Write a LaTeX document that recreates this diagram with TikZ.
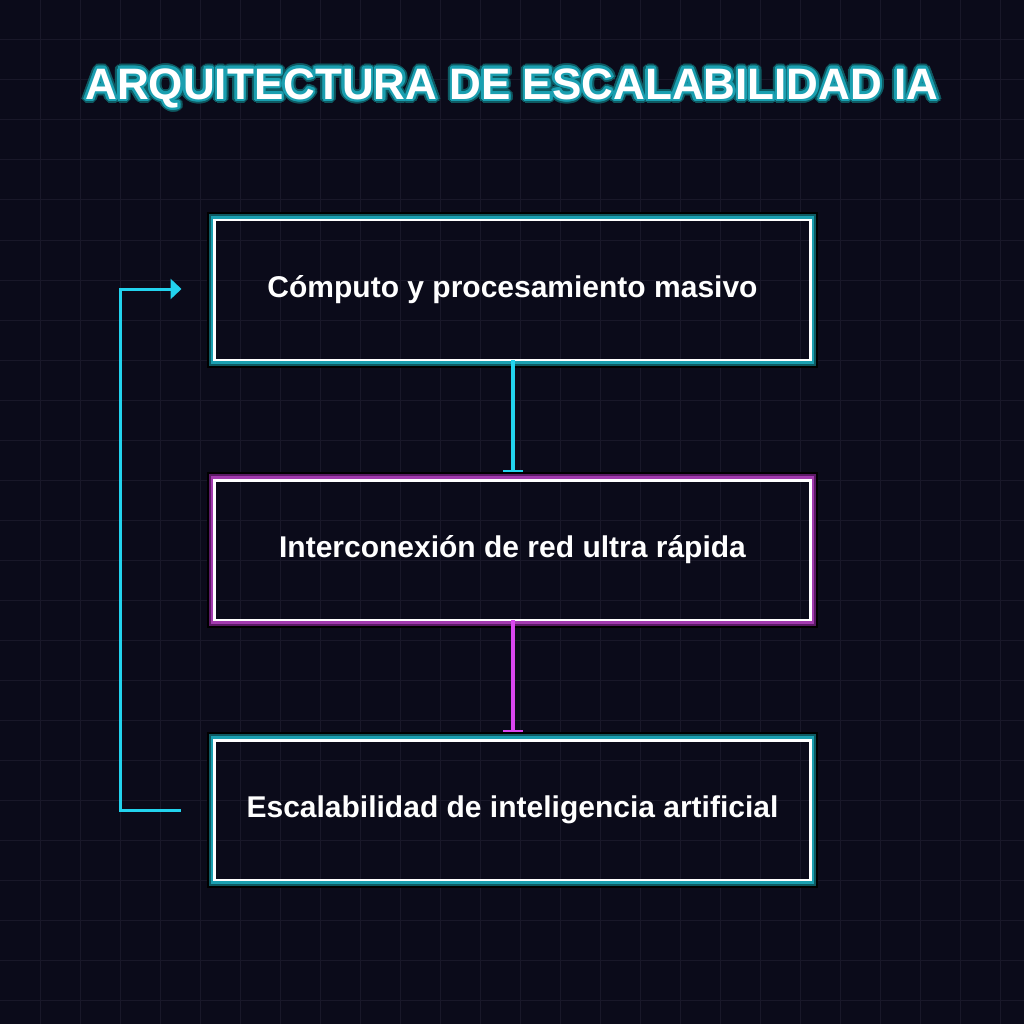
\documentclass[tikz,border=0pt]{standalone}
\usepackage{fontspec}
\setmainfont{Liberation Sans}
\usetikzlibrary{arrows.meta,calc}
\definecolor{bg}{HTML}{0B0B1A}
\definecolor{gridc}{HTML}{191829}
\definecolor{cyanl}{HTML}{22D3EE}
\definecolor{magl}{HTML}{D946EF}
\definecolor{teal1}{HTML}{1A9FB0}
\definecolor{teal2}{HTML}{0E5A62}
\definecolor{pur1}{HTML}{A23AAE}
\definecolor{pur2}{HTML}{5C1A66}
\tikzset{
  boxbase/.style={minimum width=596pt, minimum height=140pt, inner sep=0pt, outer sep=0pt,
    draw=white, line width=3pt, text=white, font=\fontsize{30}{34}\selectfont\bfseries},
  titlefont/.style={font=\fontsize{44}{50}\selectfont\bfseries},
  connector/.style={line width=4pt, shorten >=8pt, -{Bar[width=20pt,line width=2pt]}},
}
\newcommand\glowring[3]{%
  \draw[black, line width=2.2pt] ([shift={(-6.5,-6.5)}]#1.north west) rectangle ([shift={(6.5,6.5)}]#1.south east);
  \draw[#3, line width=2.2pt] ([shift={(-4.5,-4.5)}]#1.north west) rectangle ([shift={(4.5,4.5)}]#1.south east);
  \draw[#2, line width=2.2pt] ([shift={(-2.5,-2.5)}]#1.north west) rectangle ([shift={(2.5,2.5)}]#1.south east);
}
\begin{document}
\begin{tikzpicture}[x=1pt,y=-1pt]
\fill[bg] (0,0) rectangle (1024,1024);
\useasboundingbox (0,0) rectangle (1024,1024);
\foreach \i in {40,80,...,1000} {
  \draw[gridc, line width=1pt] (\i,0) -- (\i,1024);
  \draw[gridc, line width=1pt] (0,\i) -- (1024,\i);
}
% title glow
\foreach \a in {0,20,...,340} {
  \node[titlefont, text=teal2] (tg\a) at ($(512,88)+(\a:4.5)$) {ARQUITECTURA DE ESCALABILIDAD IA};
}
\foreach \a in {0,30,...,330} {
  \node[titlefont, text=teal1] (th\a) at ($(512,88)+(\a:2.5)$) {ARQUITECTURA DE ESCALABILIDAD IA};
}
\node[titlefont, text=white] (title) at (512,88) {ARQUITECTURA DE ESCALABILIDAD IA};

\node[boxbase] (b1) at (512.5,290) {Cómputo y procesamiento masivo};
\node[boxbase] (b2) at (512.5,550) {Interconexión de red ultra rápida};
\node[boxbase] (b3) at (512.5,810) {Escalabilidad de inteligencia artificial};
\glowring{b1}{teal1}{teal2}
\glowring{b2}{pur1}{pur2}
\glowring{b3}{teal1}{teal2}

\draw[cyanl, connector] (b1.south) -- (b2.north);
\draw[magl, connector] (b2.south) -- (b3.north);

\coordinate (fb1) at ([xshift=-34pt]b3.west);
\coordinate (fb2) at ([xshift=-33pt,yshift=1pt]b1.west);
\draw[cyanl, line width=3pt, -{Triangle[length=11pt,width=20pt]}] (fb1) -- ++(-60,0) |- (fb2);
\end{tikzpicture}
\end{document}
